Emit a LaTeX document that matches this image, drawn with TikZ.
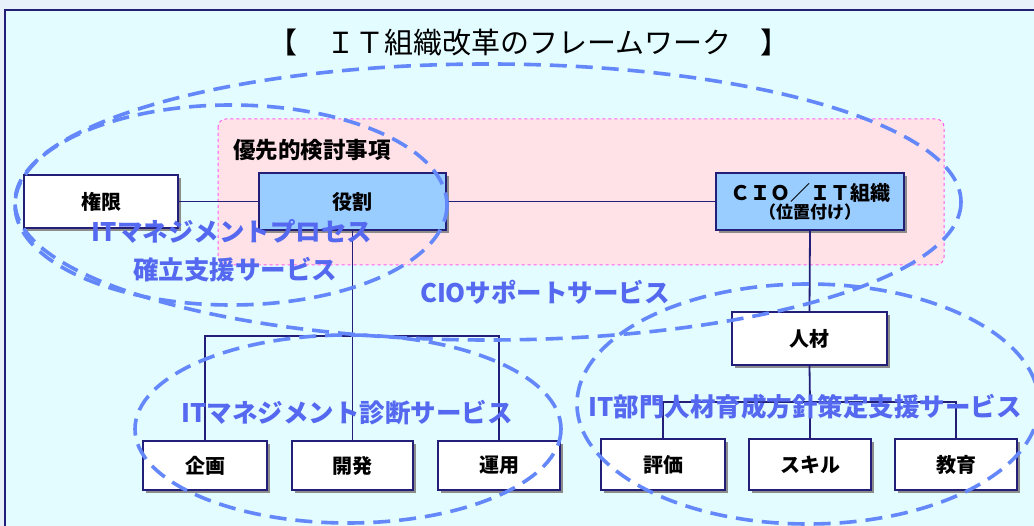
\documentclass[tikz,border=0pt]{standalone}
\usepackage{fontspec}
\setmainfont{Noto Sans CJK JP}
\usetikzlibrary{shadows}

\definecolor{navyline}{RGB}{35,30,120}
\definecolor{pageblue}{RGB}{232,241,250}
\definecolor{framecyan}{RGB}{226,252,255}
\definecolor{prioritypink}{RGB}{255,226,232}
\definecolor{prioritymagenta}{RGB}{255,90,240}
\definecolor{keyblue}{RGB}{153,204,255}
\definecolor{ringblue}{RGB}{100,135,250}
\definecolor{labelblue}{RGB}{85,105,240}

\tikzset{
  orgbox/.style={draw=navyline, line width=1.7pt, fill=white, inner sep=0pt,
    font=\fontsize{20}{23}\selectfont\bfseries, align=center,
    drop shadow={shadow xshift=3pt, shadow yshift=-3pt, fill=black!45, opacity=1}},
  keybox/.style={orgbox, fill=keyblue},
  link/.style={draw=navyline, line width=1.8pt},
  svcring/.style={draw=ringblue, line width=3.6pt, dash pattern=on 17pt off 9pt},
  svclabel/.style={text=labelblue, font=\fontsize{25.5}{28}\selectfont\bfseries, inner sep=0pt}
}

\begin{document}
\begin{tikzpicture}[x=1pt,y=-1pt]
\useasboundingbox (0,0) rectangle (1034,526);
\clip (0,0) rectangle (1034,526);
\fill[pageblue] (0,0) rectangle (1034,526);
\filldraw[fill=framecyan, draw=navyline, line width=1.6pt] (5,10) rectangle (1045,545);
%
\node[font=\fontsize{29}{32}\selectfont] (title) at (529,42) {【　ＩＴ組織改革のフレームワーク　】};
%
\filldraw[fill=prioritypink, draw=prioritymagenta, line width=1pt, dashed, rounded corners=8pt] (218,119) rectangle (944,265);
\node[font=\fontsize{22.5}{25}\selectfont\bfseries] (priority) at (312,150) {優先的検討事項};
%
\node[orgbox, minimum width=154pt, minimum height=53pt] (kengen) at (101,201.5) {権限};
\node[keybox, minimum width=187pt, minimum height=57pt] (yakuwari) at (352.5,201.5) {役割};
\node[keybox, minimum width=188pt, minimum height=57pt] (cio) at (810,201.5)
  {ＣＩＯ／ＩＴ組織\\[-5pt]{\fontsize{17}{19}\selectfont （位置付け）}};
\node[orgbox, minimum width=155pt, minimum height=53pt] (jinzai) at (809.5,338.5) {人材};
%
\node[orgbox, minimum width=124pt, minimum height=49pt] (kikaku) at (205,465.5) {企画};
\node[orgbox, minimum width=121pt, minimum height=49pt] (kaihatsu) at (352.5,465.5) {開発};
\node[orgbox, minimum width=122pt, minimum height=49pt] (unyo) at (499,465.5) {運用};
\node[orgbox, minimum width=124pt, minimum height=51pt] (hyoka) at (663,464.5) {評価};
\node[orgbox, minimum width=122pt, minimum height=51pt] (skill) at (810,464.5) {スキル};
\node[orgbox, minimum width=122pt, minimum height=51pt] (kyoiku) at (956,464.5) {教育};
%
\coordinate (devbar) at (352.5,336);
\coordinate (hrbar) at (810,402);
\draw[link] (kengen) -- (yakuwari);
\draw[link] (yakuwari) -- (cio);
\draw[link] (yakuwari.south) -- (devbar);
\draw[link] (kikaku.north) |- (devbar) -| (unyo.north);
\draw[link] (devbar) -- (kaihatsu.north);
\draw[link] (cio.south) -- (jinzai.north);
\draw[link] (jinzai.south) -- (hrbar);
\draw[link] (hyoka.north) |- (hrbar) -| (kyoiku.north);
\draw[link] (hrbar) -- (skill.north);
%
\draw[svcring] (488,202) ellipse [x radius=473, y radius=138];
\draw[svcring] (231,205) ellipse [x radius=216, y radius=100];
\draw[svcring] (348,429) ellipse [x radius=213, y radius=94];
\draw[svcring] (808,404) ellipse [x radius=231, y radius=120];
%
\node[svclabel] (processlabel) at (232,231) {ITマネジメントプロセス};
\node[svclabel] (processlabel2) at (235,270) {確立支援サービス};
\node[svclabel] (ciolabel) at (545,292) {CIOサポートサービス};
\node[svclabel] (diaglabel) at (347,413) {ITマネジメント診断サービス};
\node[svclabel] (hrlabel) at (805,407) {IT部門人材育成方針策定支援サービス};
\end{tikzpicture}
\end{document}
